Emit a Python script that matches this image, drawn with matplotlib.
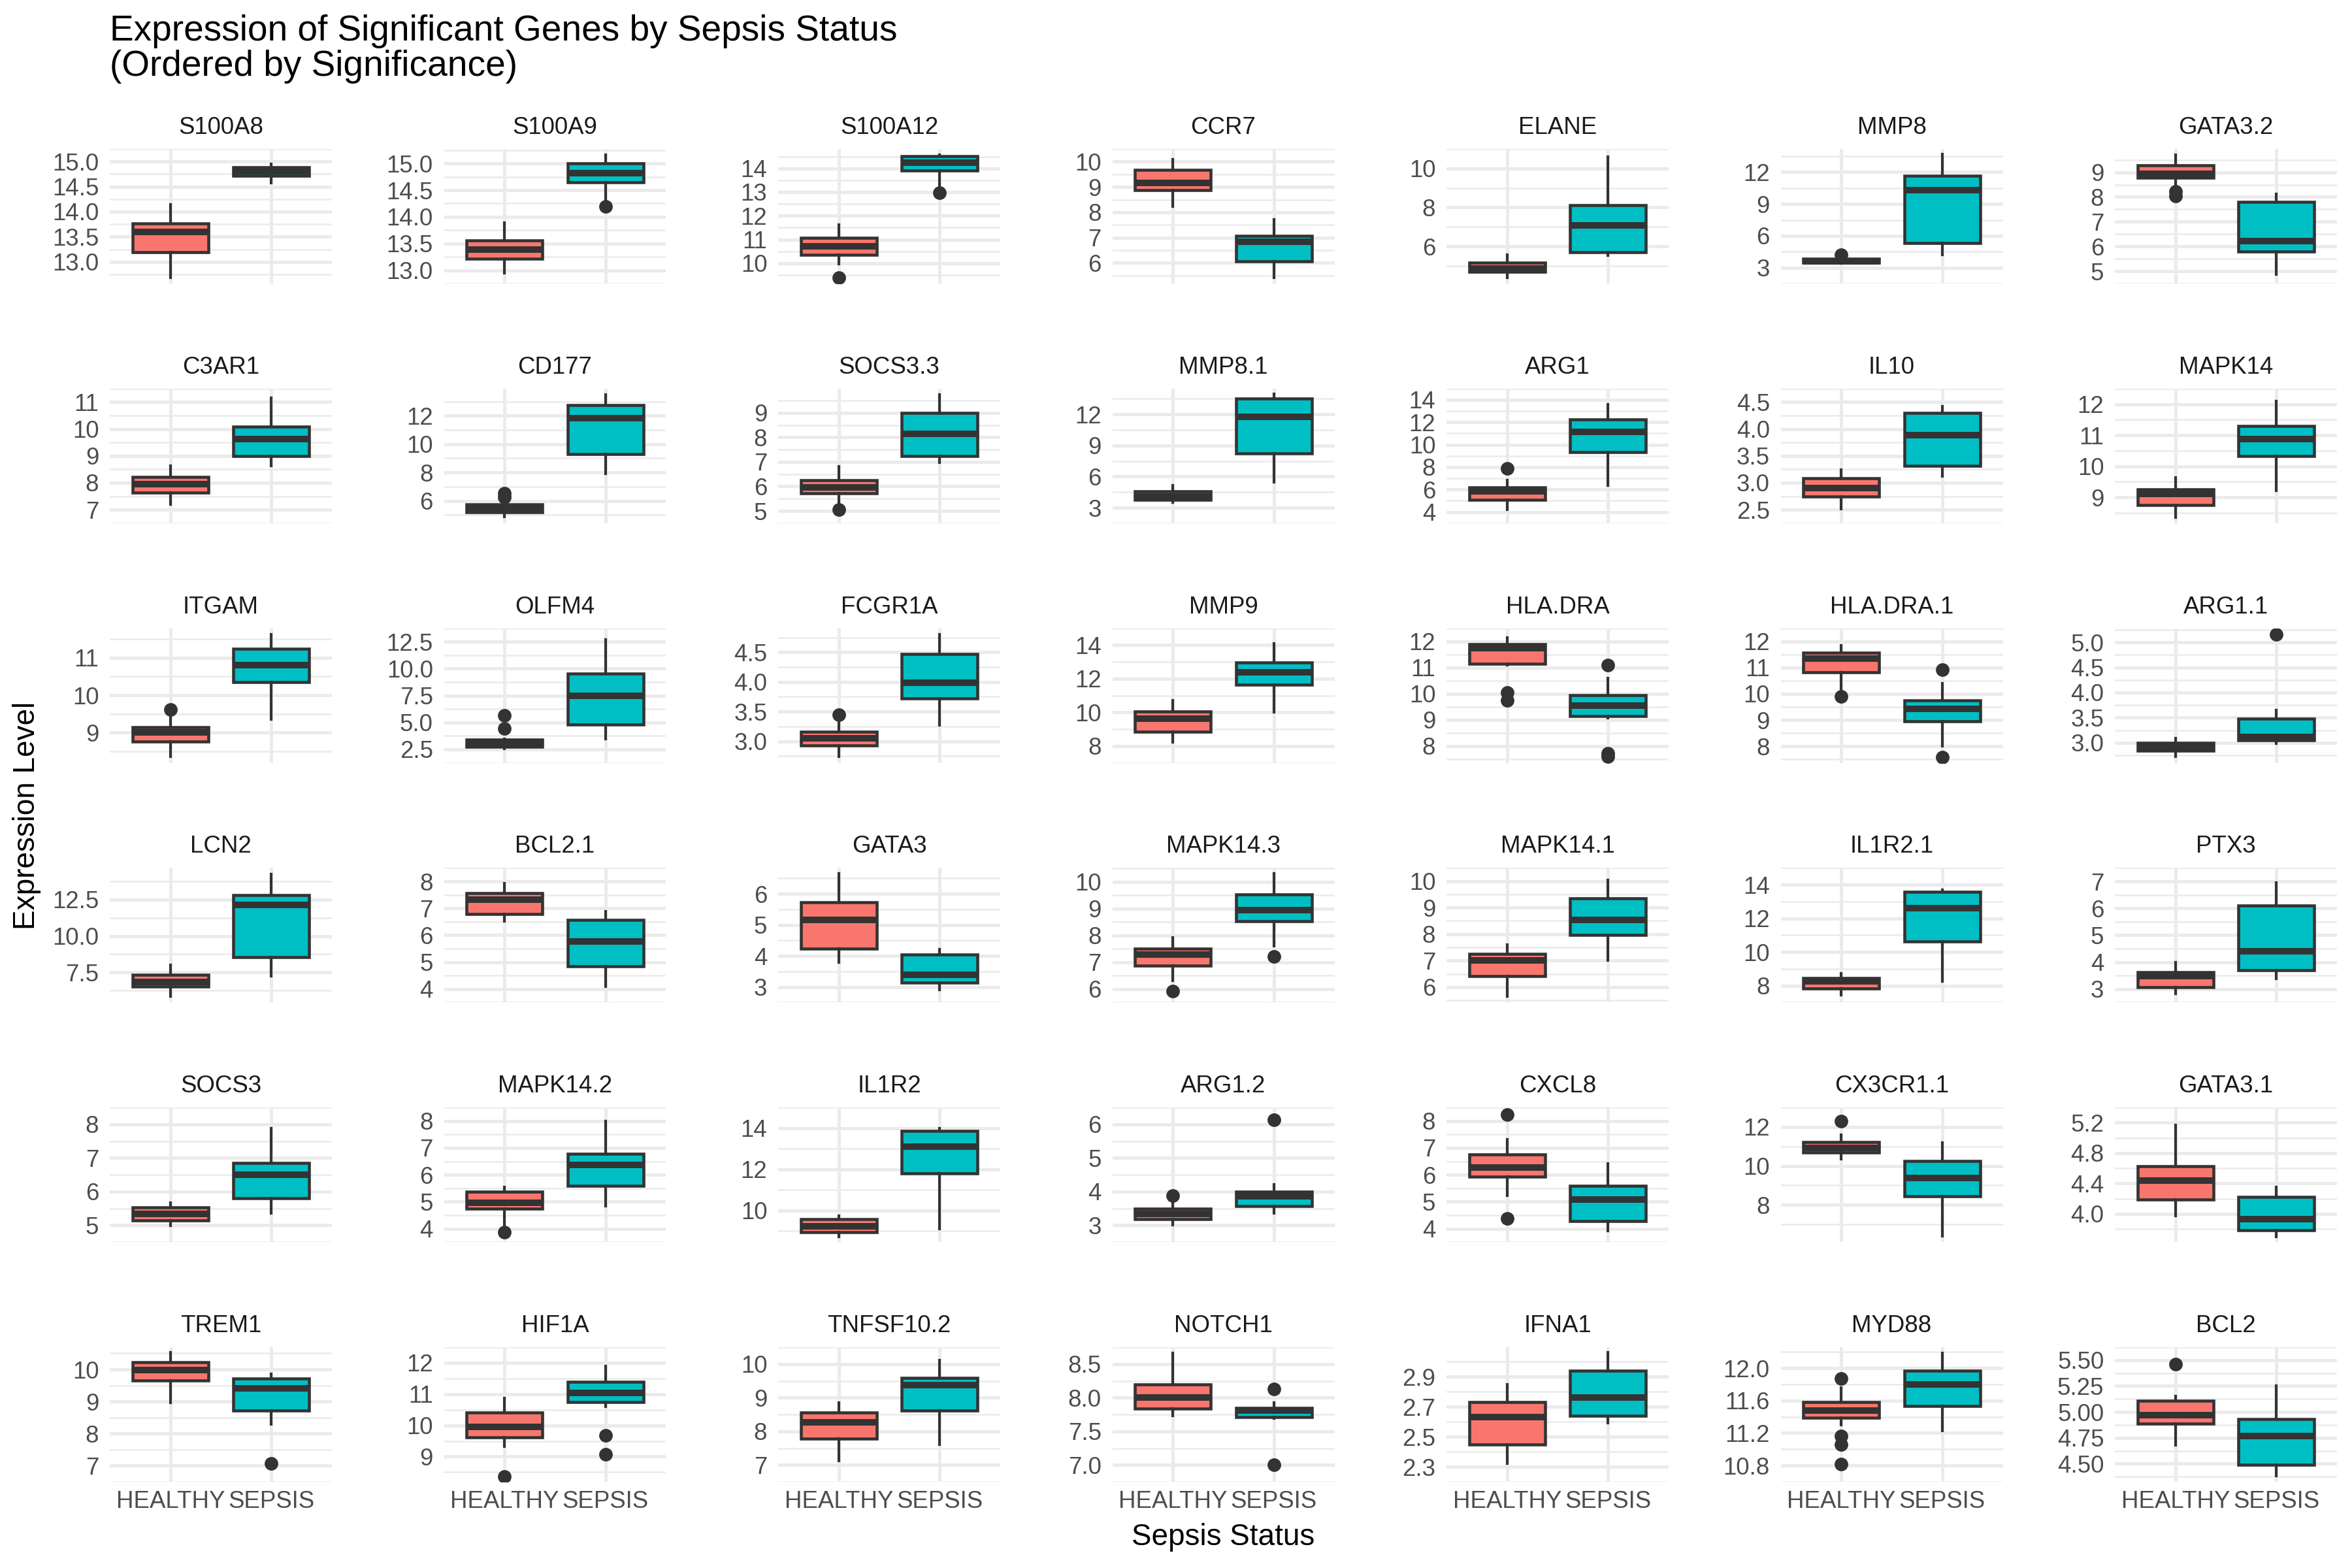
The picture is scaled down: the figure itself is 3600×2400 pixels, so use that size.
import matplotlib.pyplot as plt

# genes in facet order (ordered by significance)
genes = ["S100A8", "S100A9", "S100A12", "CCR7", "ELANE", "MMP8", "GATA3.2",
         "C3AR1", "CD177", "SOCS3.3", "MMP8.1", "ARG1", "IL10", "MAPK14",
         "ITGAM", "OLFM4", "FCGR1A", "MMP9", "HLA.DRA", "HLA.DRA.1", "ARG1.1",
         "LCN2", "BCL2.1", "GATA3", "MAPK14.3", "MAPK14.1", "IL1R2.1", "PTX3",
         "SOCS3", "MAPK14.2", "IL1R2", "ARG1.2", "CXCL8", "CX3CR1.1", "GATA3.1",
         "TREM1", "HIF1A", "TNFSF10.2", "NOTCH1", "IFNA1", "MYD88", "BCL2"]
groups = ["HEALTHY", "SEPSIS"]

# HEALTHY box statistics
h_lo = [12.68, 12.94, 9.96, 8.23, 4.40, 3.38, 8.50,
        7.20, 4.86, 5.27, 3.49, 4.22, 2.51, 8.35,
        8.36, 2.54, 2.74, 8.24, 11.08, 10.17, 2.72,
        5.86, 6.53, 3.79, 6.31, 5.64, 7.44, 2.82,
        4.99, 4.02, 8.72, 3.01, 5.22, 10.37, 3.97,
        8.97, 9.33, 7.13, 7.73, 2.32, 11.30, 4.68]
h_q1 = [13.19, 13.22, 10.35, 8.87, 4.70, 3.45, 8.79,
        7.63, 5.20, 5.71, 3.77, 5.09, 2.74, 8.74,
        8.76, 2.75, 2.93, 8.85, 11.15, 10.83, 2.84,
        6.53, 6.78, 4.23, 6.87, 6.42, 7.83, 3.06,
        5.14, 4.75, 8.95, 3.19, 5.93, 10.70, 4.19,
        9.65, 9.61, 7.78, 7.84, 2.45, 11.39, 4.89]
h_med = [13.60, 13.39, 10.72, 9.17, 4.85, 3.62, 8.95,
         7.94, 5.48, 5.97, 4.05, 5.85, 2.90, 9.10,
         9.01, 3.08, 3.05, 9.63, 11.75, 11.34, 2.92,
         6.85, 7.32, 5.17, 7.30, 7.02, 8.25, 3.47,
         5.34, 4.96, 9.21, 3.33, 6.28, 10.92, 4.44,
         9.99, 9.94, 8.26, 8.00, 2.63, 11.48, 4.97]
h_q3 = [13.77, 13.56, 11.07, 9.68, 5.17, 3.85, 9.28,
        8.22, 5.74, 6.26, 4.57, 6.20, 3.08, 9.25,
        9.15, 3.39, 3.16, 10.05, 11.90, 11.57, 3.00,
        7.36, 7.56, 5.73, 7.50, 7.25, 8.46, 3.63,
        5.54, 5.37, 9.56, 3.50, 6.75, 11.22, 4.63,
        10.23, 10.41, 8.56, 8.20, 2.73, 11.58, 5.11]
h_hi = [14.14, 13.89, 11.62, 10.08, 5.55, 3.95, 9.70,
        8.63, 5.85, 6.82, 5.15, 6.86, 3.24, 9.63,
        9.45, 3.48, 3.32, 10.71, 12.15, 11.85, 3.09,
        8.02, 7.93, 6.65, 7.91, 7.61, 8.74, 3.99,
        5.66, 5.55, 9.72, 3.70, 7.31, 11.58, 5.17,
        10.52, 10.87, 8.84, 8.66, 2.85, 11.76, 5.15]
h_out = [[], [], [9.40], [], [], [4.22], [8.22, 8.05],
         [], [6.25, 6.55], [5.06], [], [7.90], [], [],
         [9.62], [5.66, 4.45], [3.45], [], [10.03, 9.75], [9.89], [],
         [], [], [], [5.92], [], [], [],
         [], [3.86], [], [3.88], [8.23, 4.38], [12.29], [],
         [], [8.37], [], [], [], [11.87, 11.16, 11.06, 10.82], [5.46]]

# SEPSIS box statistics
s_lo = [14.57, 14.30, 13.10, 5.42, 5.52, 4.20, 4.87,
        8.63, 7.94, 6.98, 5.45, 6.38, 3.12, 9.22,
        9.36, 3.48, 3.27, 10.00, 9.07, 8.00, 2.99,
        7.24, 4.10, 2.90, 7.61, 7.02, 8.27, 3.38,
        5.36, 4.85, 9.09, 3.35, 3.92, 6.38, 3.70,
        8.29, 10.60, 7.61, 7.69, 2.59, 11.23, 4.38]
s_q1 = [14.72, 14.65, 13.92, 6.06, 5.69, 5.34, 5.79,
        9.00, 9.29, 7.24, 8.20, 9.31, 3.32, 10.32,
        10.34, 4.82, 3.72, 11.64, 9.13, 8.96, 3.05,
        8.54, 4.84, 3.15, 8.53, 7.98, 10.61, 3.69,
        5.80, 5.60, 11.80, 3.57, 4.28, 8.43, 3.78,
        8.71, 10.75, 8.62, 7.71, 2.64, 11.53, 4.49]
s_med = [14.81, 14.82, 14.25, 6.83, 7.07, 10.33, 6.22,
         9.62, 11.85, 8.14, 11.77, 11.17, 3.88, 10.87,
         10.80, 7.45, 3.99, 12.40, 9.54, 9.42, 3.11,
         12.11, 5.76, 3.40, 8.95, 8.53, 12.62, 4.40,
         6.51, 6.36, 13.11, 3.86, 5.08, 9.37, 3.93,
         9.41, 11.03, 9.38, 7.81, 2.76, 11.80, 4.77]
s_q3 = [14.89, 15.00, 14.51, 7.08, 8.12, 11.65, 7.81,
        10.09, 12.74, 9.00, 13.52, 12.23, 4.30, 11.30,
        11.23, 9.51, 4.47, 12.96, 9.93, 9.76, 3.48,
        12.81, 6.57, 4.05, 9.52, 9.34, 13.57, 6.11,
        6.85, 6.78, 13.85, 4.00, 5.59, 10.25, 4.22,
        9.71, 11.39, 9.59, 7.85, 2.94, 11.97, 4.93]
s_hi = [14.95, 15.16, 14.56, 7.72, 10.59, 13.67, 8.12,
        11.16, 13.48, 9.75, 13.96, 13.60, 4.42, 12.09,
        11.62, 12.72, 4.80, 14.08, 10.59, 10.39, 3.65,
        14.24, 6.89, 4.21, 10.30, 10.05, 13.71, 6.96,
        7.88, 8.00, 13.98, 4.22, 6.42, 11.18, 4.35,
        9.86, 11.90, 10.11, 7.92, 3.06, 12.19, 5.25]
s_out = [[], [14.19], [12.97], [], [], [], [],
         [], [], [], [], [], [], [],
         [], [], [], [], [11.08, 7.72, 7.58], [10.92, 7.58], [5.16],
         [], [], [], [7.22], [], [], [],
         [], [], [], [6.13], [], [], [],
         [7.06], [9.68, 9.08], [], [8.13, 7.00], [], [], []]

# y tick labels per facet
y_ticks = [
    ["13.0", "13.5", "14.0", "14.5", "15.0"], ["13.0", "13.5", "14.0", "14.5", "15.0"],
    ["10", "11", "12", "13", "14"], ["6", "7", "8", "9", "10"], ["6", "8", "10"],
    ["3", "6", "9", "12"], ["5", "6", "7", "8", "9"],
    ["7", "8", "9", "10", "11"], ["6", "8", "10", "12"], ["5", "6", "7", "8", "9"],
    ["3", "6", "9", "12"], ["4", "6", "8", "10", "12", "14"], ["2.5", "3.0", "3.5", "4.0", "4.5"],
    ["9", "10", "11", "12"],
    ["9", "10", "11"], ["2.5", "5.0", "7.5", "10.0", "12.5"], ["3.0", "3.5", "4.0", "4.5"],
    ["8", "10", "12", "14"], ["8", "9", "10", "11", "12"], ["8", "9", "10", "11", "12"],
    ["3.0", "3.5", "4.0", "4.5", "5.0"],
    ["7.5", "10.0", "12.5"], ["4", "5", "6", "7", "8"], ["3", "4", "5", "6"],
    ["6", "7", "8", "9", "10"], ["6", "7", "8", "9", "10"], ["8", "10", "12", "14"],
    ["3", "4", "5", "6", "7"],
    ["5", "6", "7", "8"], ["4", "5", "6", "7", "8"], ["10", "12", "14"], ["3", "4", "5", "6"],
    ["4", "5", "6", "7", "8"], ["8", "10", "12"], ["4.0", "4.4", "4.8", "5.2"],
    ["7", "8", "9", "10"], ["9", "10", "11", "12"], ["7", "8", "9", "10"],
    ["7.0", "7.5", "8.0", "8.5"], ["2.3", "2.5", "2.7", "2.9"], ["10.8", "11.2", "11.6", "12.0"],
    ["4.50", "4.75", "5.00", "5.25", "5.50"],
]

fill_colors = ["#F8766D", "#00BFC4"]
line_col = "#333333"
grid_col = "#EBEBEB"

plt.rcParams['font.family'] = ['Liberation Sans', 'DejaVu Sans']

W, H = 3600, 2400
fig = plt.figure(figsize=(12, 8), dpi=300)
fig.patch.set_facecolor("white")

n_col = 7
n_row = 6
for k, gene in enumerate(genes):
    r, c = divmod(k, n_col)
    left = (168 + c * 511.5) / W
    top = 228 + r * 366.8
    ax = fig.add_axes([left, 1 - (top + 206) / H, 340 / W, 206 / H])

    stats = [
        dict(whislo=h_lo[k], q1=h_q1[k], med=h_med[k], q3=h_q3[k],
             whishi=h_hi[k], fliers=h_out[k]),
        dict(whislo=s_lo[k], q1=s_q1[k], med=s_med[k], q3=s_q3[k],
             whishi=s_hi[k], fliers=s_out[k]),
    ]
    bp = ax.bxp(stats, positions=[1, 2], widths=0.75, patch_artist=True,
                showcaps=False,
                boxprops=dict(edgecolor=line_col, linewidth=1.1),
                whiskerprops=dict(color=line_col, linewidth=1.0),
                medianprops=dict(color=line_col, linewidth=2.4, solid_capstyle="butt"),
                flierprops=dict(marker="o", markerfacecolor=line_col,
                                markeredgecolor=line_col, markersize=4))
    for patch, fc in zip(bp["boxes"], fill_colors):
        patch.set_facecolor(fc)

    ax.set_xlim(0.4, 2.6)
    ax.margins(y=0.05)

    tk = [float(t) for t in y_ticks[k]]
    step = tk[1] - tk[0]
    minor = [tk[0] - step / 2] + [t + step / 2 for t in tk]
    ax.set_yticks(tk)
    ax.set_yticklabels(y_ticks[k])
    ax.set_yticks(minor, minor=True)
    ax.set_xticks([1, 2])
    if r == n_row - 1:
        ax.set_xticklabels(groups)
    else:
        ax.set_xticklabels([])

    ax.set_axisbelow(True)
    ax.grid(axis="y", which="major", color=grid_col, linewidth=1.2)
    ax.grid(axis="y", which="minor", color=grid_col, linewidth=0.6)
    ax.grid(axis="x", which="major", color=grid_col, linewidth=1.2)
    ax.tick_params(which="both", length=0, labelsize=8.8, labelcolor="#4D4D4D")
    ax.tick_params(axis="y", pad=4)
    ax.tick_params(axis="x", pad=3)
    for sp in ax.spines.values():
        sp.set_visible(False)

    ax.set_title(gene, fontsize=8.8, color="#1A1A1A", pad=5.5)

fig.text(168 / W, 1 - 22 / H,
         "Expression of Significant Genes by Sepsis Status\n(Ordered by Significance)",
         ha="left", va="top", fontsize=13.2, color="black", linespacing=1.05)
fig.text(41 / W, 1 - 1248 / H, "Expression Level", rotation=90,
         ha="center", va="center", fontsize=11, color="black")
fig.text(1872 / W, 1 - 2353 / H, "Sepsis Status",
         ha="center", va="center", fontsize=11, color="black")

fig.savefig("out.png", dpi=300, facecolor="white")
